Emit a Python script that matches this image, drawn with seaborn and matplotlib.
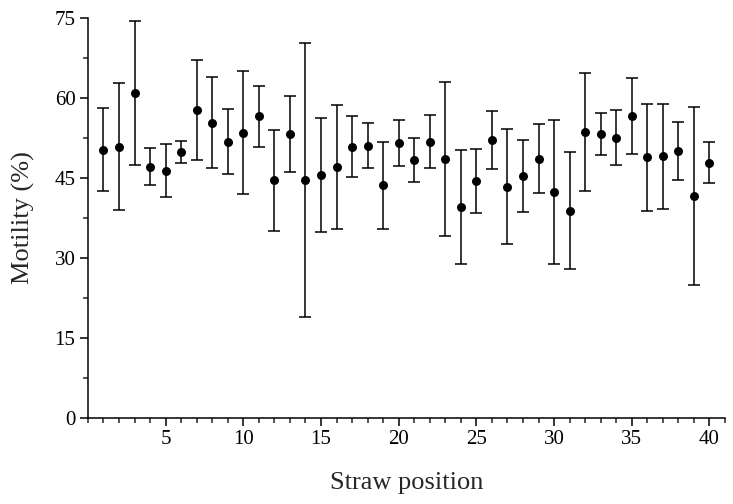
import numpy as np
import pandas as pd
import matplotlib
matplotlib.use('Agg')
import matplotlib.pyplot as plt
import seaborn as sns
from matplotlib.ticker import MultipleLocator

# Straw positions and mean motility (%) with SD
positions = list(range(1, 41))
motility = [50.3, 50.9, 60.9, 47.1, 46.4, 49.9, 57.8, 55.4, 51.8, 53.5,
            56.6, 44.6, 53.3, 44.6, 45.6, 47.1, 50.9, 51.1, 43.6, 51.6,
            48.4, 51.8, 48.6, 39.6, 44.4, 52.1, 43.4, 45.4, 48.6, 42.4,
            38.9, 53.6, 53.3, 52.6, 56.6, 48.9, 49.1, 50.1, 41.6, 47.9]
sd = [7.75, 11.95, 13.55, 3.5, 5.0, 2.05, 9.4, 8.6, 6.1, 11.5,
      5.7, 9.5, 7.1, 25.65, 10.7, 11.6, 5.8, 4.15, 8.1, 4.35,
      4.15, 4.95, 14.4, 10.7, 6.05, 5.5, 10.85, 6.8, 6.5, 13.5,
      11.0, 11.05, 3.95, 5.15, 7.15, 10.0, 9.85, 5.5, 16.65, 3.9]

df = pd.DataFrame({'Position': positions, 'Motility': motility, 'SD': sd})

sns.set_style('ticks')
plt.rcParams['font.family'] = ['Liberation Serif', 'DejaVu Serif']

fig = plt.figure(figsize=(7.33, 5.04), dpi=100)
ax = fig.add_axes([0.12, 0.171, 0.869, 0.793])

# Error bars first, then the points on top
ax.errorbar(df['Position'], df['Motility'], yerr=df['SD'], fmt='none',
            ecolor='black', elinewidth=1.1, capsize=4.5, capthick=1.1, zorder=2)
sns.scatterplot(data=df, x='Position', y='Motility', color='black', s=42,
                edgecolor='black', linewidth=0, ax=ax, zorder=3)

ax.set_xlim(0, 41)
ax.set_ylim(0, 75)
ax.xaxis.set_major_locator(MultipleLocator(5))
ax.xaxis.set_minor_locator(MultipleLocator(1))
ax.yaxis.set_major_locator(MultipleLocator(15))
ax.yaxis.set_minor_locator(MultipleLocator(7.5))
ax.set_xticks([5, 10, 15, 20, 25, 30, 35, 40])

ax.tick_params(which='major', direction='out', length=6, width=1.1, labelsize=15,
               colors='black', pad=3)
ax.tick_params(which='minor', direction='out', length=3.5, width=1.1)

ax.set_xlabel('Straw position', fontsize=19, labelpad=16)
ax.set_ylabel('Motility (%)', fontsize=19, labelpad=14)

sns.despine(ax=ax)
for sp in ['left', 'bottom']:
    ax.spines[sp].set_linewidth(1.1)
    ax.spines[sp].set_color('black')

fig.savefig('out.png', dpi=100)
